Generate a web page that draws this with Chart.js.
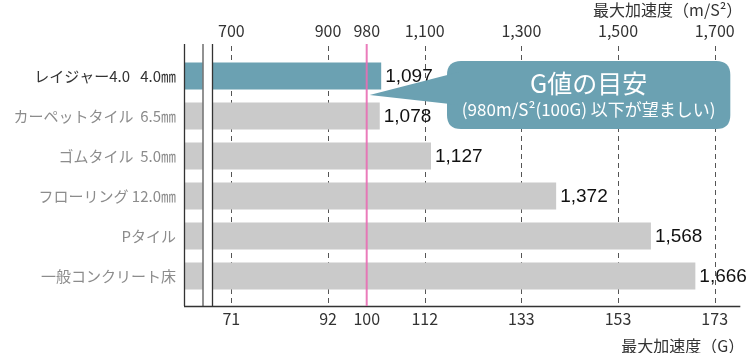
<!DOCTYPE html>
<html>
<head>
<meta charset="utf-8">
<script src="https://cdn.jsdelivr.net/npm/chart.js@4"></script>
<style>
  html, body { margin: 0; padding: 0; background: #fff; }
  #wrap { width: 750px; height: 353px; }
</style>
</head>
<body>
<div id="wrap"><canvas id="chart" width="750" height="353"></canvas></div>
<script>
// floor types, bar lengths as drawn against the m/S2 axis, and printed values
var categories = ['レイジャー4.0   4.0㎜', 'カーペットタイル  6.5㎜', 'ゴムタイル  5.0㎜', 'フローリング 12.0㎜', 'Pタイル', '一般コンクリート床'];
var barValues = [1010, 1007, 1113, 1372, 1568, 1660];
var valueLabels = ['1,097', '1,078', '1,127', '1,372', '1,568', '1,666'];

// axis ticks: top in m/S2, bottom in G
var tickValues = [700, 900, 980, 1100, 1300, 1500, 1700];
var topTickLabels = ['700', '900', '980', '1,100', '1,300', '1,500', '1,700'];
var bottomTickLabels = ['71', '92', '100', '112', '133', '153', '173'];
var guideValue = 980;

var X_MIN = 602, X_MAX = 1753;
var TEAL = '#6ba1b2', GREY = '#cacaca';
var JP = '"Noto Sans CJK JP", "Noto Sans", sans-serif';

function setTicks(scale) {
    scale.ticks = tickValues.map(function (v) { return {value: v}; });
}

var overlay = {
    id: 'overlay',
    beforeDatasetsDraw: function (chart) {
        var ctx = chart.ctx, a = chart.chartArea, x = chart.scales.x;
        var top = a.top - 12, bottom = a.bottom + 10;
        ctx.save();
        ctx.strokeStyle = '#555';
        ctx.lineWidth = 1;
        ctx.setLineDash([5, 4]);
        tickValues.forEach(function (v) {
            if (v === guideValue) return;
            var px = Math.round(x.getPixelForValue(v)) + 0.5;
            ctx.beginPath();
            ctx.moveTo(px, top + 2);
            ctx.lineTo(px, bottom);
            ctx.stroke();
        });
        ctx.restore();
    },
    afterDatasetsDraw: function (chart) {
        var ctx = chart.ctx, a = chart.chartArea, x = chart.scales.x, y = chart.scales.y;
        var top = a.top - 12, bottom = a.bottom + 10;
        ctx.save();

        // axis break
        var b1 = a.left + 19, b2 = a.left + 28;
        ctx.fillStyle = '#fff';
        ctx.fillRect(b1, top, b2 - b1, bottom - top);
        ctx.strokeStyle = '#333';
        ctx.lineWidth = 1.3;
        [a.left, b2].forEach(function (px) {
            ctx.beginPath();
            ctx.moveTo(px + 0.5, top);
            ctx.lineTo(px + 0.5, bottom);
            ctx.stroke();
        });
        ctx.strokeStyle = '#777';
        ctx.lineWidth = 1.6;
        ctx.beginPath();
        ctx.moveTo(b1, top);
        ctx.lineTo(b1, bottom);
        ctx.stroke();

        // bottom axis line
        ctx.strokeStyle = '#333';
        ctx.lineWidth = 1.3;
        ctx.beginPath();
        ctx.moveTo(a.left, bottom + 0.5);
        ctx.lineTo(a.right, bottom + 0.5);
        ctx.stroke();

        // 980 guide line
        var gx = x.getPixelForValue(guideValue);
        ctx.strokeStyle = 'rgba(232, 110, 180, 0.9)';
        ctx.lineWidth = 2;
        ctx.beginPath();
        ctx.moveTo(gx, top);
        ctx.lineTo(gx, bottom);
        ctx.stroke();

        // value labels
        ctx.fillStyle = '#111';
        ctx.font = '19px "Liberation Sans", Arial, sans-serif';
        ctx.textAlign = 'left';
        ctx.textBaseline = 'middle';
        barValues.forEach(function (v, i) {
            ctx.fillText(valueLabels[i], x.getPixelForValue(v) + 4, y.getPixelForValue(i) + 1);
        });

        // callout
        var tipX = gx + 3, tipY = (y.getPixelForValue(0) + y.getPixelForValue(1)) / 2 - 1;
        var rl = a.left + 263, rr = a.right - 10, rt = a.top + 5, rb = a.top + 73, r = 14;
        ctx.fillStyle = TEAL;
        ctx.beginPath();
        ctx.moveTo(rl + r, rt);
        ctx.lineTo(rr - r, rt);
        ctx.quadraticCurveTo(rr, rt, rr, rt + r);
        ctx.lineTo(rr, rb - r);
        ctx.quadraticCurveTo(rr, rb, rr - r, rb);
        ctx.lineTo(rl + r, rb);
        ctx.quadraticCurveTo(rl, rb, rl, rb - r);
        ctx.lineTo(rl, rt + r);
        ctx.quadraticCurveTo(rl, rt, rl + r, rt);
        ctx.closePath();
        ctx.fill();
        ctx.beginPath();
        ctx.moveTo(tipX, tipY);
        ctx.lineTo(rl + 12, tipY - 23);
        ctx.lineTo(rl + 12, tipY + 10);
        ctx.closePath();
        ctx.fill();

        var cx = (rl + rr) / 2;
        ctx.fillStyle = '#fff';
        ctx.textAlign = 'center';
        ctx.font = '25px ' + JP;
        ctx.fillText('G値の目安', cx, rt + 22);
        ctx.font = '17px ' + JP;
        ctx.fillText('(980m/S²(100G) 以下が望ましい)', cx, rt + 49);

        // axis titles
        ctx.fillStyle = '#333';
        ctx.textAlign = 'right';
        ctx.font = '16px ' + JP;
        ctx.fillText('最大加速度（m/S²）', a.right + 2, 10);
        ctx.fillText('最大加速度（G）', a.right + 4, 346);

        ctx.restore();
    }
};

new Chart(document.getElementById('chart'), {
    type: 'bar',
    data: {
        labels: categories,
        datasets: [{
            data: barValues,
            backgroundColor: barValues.map(function (v, i) { return i === 0 ? TEAL : GREY; }),
            barPercentage: 0.675,
            categoryPercentage: 1,
            xAxisID: 'x',
            base: X_MIN
        }]
    },
    options: {
        indexAxis: 'y',
        responsive: false,
        animation: false,
        events: [],
        layout: {padding: {left: 0, right: 7, top: 0, bottom: 0}},
        plugins: {legend: {display: false}, tooltip: {enabled: false}},
        scales: {
            x: {
                position: 'bottom',
                min: X_MIN,
                max: X_MAX,
                grid: {display: false, drawTicks: false},
                border: {display: false},
                afterBuildTicks: setTicks,
                afterFit: function (s) { s.height = 57; },
                ticks: {
                    autoSkip: false,
                    maxRotation: 0,
                    padding: 13,
                    color: '#333',
                    font: {family: JP, size: 16},
                    callback: function (v, i) { return bottomTickLabels[i]; }
                }
            },
            x2: {
                position: 'top',
                min: X_MIN,
                max: X_MAX,
                grid: {display: false, drawTicks: false},
                border: {display: false},
                afterBuildTicks: setTicks,
                afterFit: function (s) { s.height = 56; },
                ticks: {
                    autoSkip: false,
                    maxRotation: 0,
                    padding: 15,
                    color: '#333',
                    font: {family: JP, size: 16},
                    callback: function (v, i) { return topTickLabels[i]; }
                }
            },
            y: {
                grid: {display: false, drawTicks: false},
                border: {display: false},
                afterFit: function (s) { s.width = 184; },
                ticks: {
                    padding: 8,
                    color: function (c) { return c.index === 0 ? '#333' : '#8c8c8c'; },
                    font: {family: JP, size: 15}
                }
            }
        }
    },
    plugins: [overlay]
});
</script>
</body>
</html>
